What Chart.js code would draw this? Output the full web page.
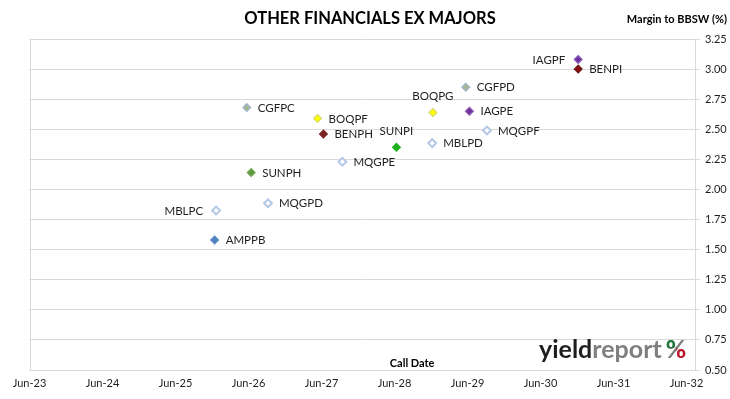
<!DOCTYPE html>
<html><head><meta charset="utf-8">
<script src="https://cdn.jsdelivr.net/npm/chart.js@4/dist/chart.umd.min.js"></script>
<style>html,body{margin:0;padding:0;background:#fff}#wrap{width:730px;height:399px;position:relative}</style>
</head><body><div id="wrap"><canvas id="c" width="730" height="399"></canvas></div>
<script>
// ---- data ----
const securities = ['IAGPF','BENPI','CGFPD','BOQPG','IAGPE','MQGPF','MBLPD','SUNPI','CGFPC','BOQPF','BENPH','MQGPE','SUNPH','MQGPD','MBLPC','AMPPB'];
// call dates as decimal years
const callDates = [2030.93,2030.93,2029.39,2028.94,2029.44,2029.68,2028.93,2028.44,2026.39,2027.36,2027.44,2027.70,2026.45,2026.68,2025.97,2025.95];
// margin to BBSW (%)
const margins = [3.08,3.00,2.85,2.64,2.65,2.49,2.385,2.35,2.68,2.59,2.46,2.23,2.14,1.885,1.825,1.58];
const xTickLabels = ['Jun-23','Jun-24','Jun-25','Jun-26','Jun-27','Jun-28','Jun-29','Jun-30','Jun-31','Jun-32'];
const xTickYears = [2023,2024,2025,2026,2027,2028,2029,2030,2031,2032];
const yTickValues = [0.50,0.75,1.00,1.25,1.50,1.75,2.00,2.25,2.50,2.75,3.00,3.25];

// ---- styles ----
const JUNE = 151/365;
const fillColors = ['#7030A0','#8B0E0E','#A6B98C','#FFFF00','#7030A0','#FFFFFF','#FFFFFF','#1DB01D','#A6B98C','#FFFF00','#7A2424','#FFFFFF','#5E9B3E','#FFFFFF','#FFFFFF','#4F81BD'];
const borderColors = ['#8A5AB5','#6E1A1A','#9DB3CF','#D8D86A','#8A5AB5','#B4C7E7','#B4C7E7','#1DB01D','#9DB3CF','#D8D86A','#7A2424','#B4C7E7','#6FA34E','#B4C7E7','#B4C7E7','#5B8CC6'];
const borderWidths = fillColors.map(c => c === '#FFFFFF' ? 2 : 1.2);
const labelSide = {IAGPF:'left', MBLPC:'left', BOQPG:'above', SUNPI:'above'};
const FONT = 'Lato';
const TXT = '#1f1f1f';
const GRID = '#D9D9D9';

const labelsPlugin = {
  id: 'pointLabels',
  afterDatasetsDraw(chart) {
    const ctx = chart.ctx;
    const meta = chart.getDatasetMeta(0);
    ctx.save();
    ctx.font = '11.5px ' + FONT;
    ctx.fillStyle = TXT;
    ctx.textBaseline = 'middle';
    meta.data.forEach((pt, i) => {
      const name = securities[i];
      const side = labelSide[name] || 'right';
      if (side === 'right') { ctx.textAlign = 'left'; ctx.fillText(name, pt.x + 11, pt.y + 0.5); }
      else if (side === 'left') { ctx.textAlign = 'right'; ctx.fillText(name, pt.x - 13, pt.y + 0.5); }
      else { ctx.textAlign = 'center'; ctx.fillText(name, pt.x, pt.y - 16.5); }
    });
    ctx.restore();
  }
};

const decorPlugin = {
  id: 'decor',
  beforeDatasetsDraw(chart) {
    const {ctx, chartArea: a} = chart;
    ctx.save();
    ctx.strokeStyle = GRID; ctx.lineWidth = 1;
    ctx.beginPath();
    ctx.moveTo(Math.round(a.left) + 0.5, Math.round(a.top) + 0.5);
    ctx.lineTo(Math.round(a.left) + 0.5, Math.round(a.bottom) + 0.5);
    ctx.lineTo(Math.round(a.right) + 0.5, Math.round(a.bottom) + 0.5);
    ctx.stroke();
    ctx.restore();
  },
  afterDraw(chart) {
    const {ctx, chartArea: a} = chart;
    ctx.save();
    ctx.fillStyle = '#000';
    ctx.textBaseline = 'middle';
    ctx.textAlign = 'center';
    ctx.font = 'bold 16.5px ' + FONT;
    ctx.fillText('OTHER FINANCIALS EX MAJORS', 370, 19);
    ctx.textAlign = 'right';
    ctx.font = 'bold 11px ' + FONT;
    ctx.fillText('Margin to BBSW (%)', 727, 19);
    ctx.textAlign = 'center';
    ctx.fillText('Call Date', a.left + (a.right - a.left) * 0.575, a.bottom - 7);
    // logo
    ctx.textAlign = 'left';
    ctx.textBaseline = 'alphabetic';
    ctx.font = 'bold 25px ' + FONT;
    const lx = 539, ly = 357.5;
    ctx.fillStyle = '#1e1e1e';
    ctx.fillText('yield', lx, ly);
    const w1 = ctx.measureText('yield').width;
    ctx.fillStyle = '#7f7f7f';
    ctx.fillText('report', lx + w1, ly);
    const w2 = ctx.measureText('report').width;
    const px = lx + w1 + w2 + 4;
    const pw = ctx.measureText('%').width;
    ctx.fillText('%', px, ly);
    ctx.save();
    ctx.beginPath(); ctx.rect(px, ly - 21, pw * 0.5, 11.5); ctx.clip();
    ctx.fillStyle = '#1e7a3a'; ctx.fillText('%', px, ly);
    ctx.restore();
    ctx.save();
    ctx.beginPath(); ctx.rect(px + pw * 0.5, ly - 9, pw * 0.6, 11); ctx.clip();
    ctx.fillStyle = '#c4182c'; ctx.fillText('%', px, ly);
    ctx.restore();
    ctx.restore();
  }
};

new Chart(document.getElementById('c'), {
  type: 'scatter',
  data: {
    datasets: [{
      data: callDates.map((d, i) => ({x: d, y: margins[i]})),
      pointStyle: 'rectRot',
      pointRadius: 3.9,
      pointBorderWidth: borderWidths,
      backgroundColor: fillColors,
      borderColor: borderColors
    }]
  },
  options: {
    responsive: false,
    animation: false,
    events: [],
    layout: { padding: { left: 29.5, top: 39, right: 0, bottom: 0 } },
    plugins: { legend: { display: false }, tooltip: { enabled: false }, title: { display: false } },
    scales: {
      x: {
        type: 'linear',
        min: xTickYears[0] + JUNE,
        max: xTickYears[0] + JUNE + 665.5 / 73,
        grid: { display: false, drawTicks: false },
        border: { display: false },
        afterBuildTicks(scale) { scale.ticks = xTickYears.map(y => ({ value: y + JUNE })); },
        afterFit(scale) { scale.height = 29; },
        ticks: {
          autoSkip: false, maxRotation: 0, padding: 7,
          color: TXT, font: { family: FONT, size: 11 },
          callback: (v, i) => xTickLabels[i]
        }
      },
      y: {
        position: 'right',
        min: yTickValues[0],
        max: yTickValues[yTickValues.length - 1],
        afterBuildTicks(scale) { scale.ticks = yTickValues.map(v => ({ value: v })); },
        afterFit(scale) { scale.width = 35; },
        grid: { color: GRID, lineWidth: 1, drawTicks: true, tickLength: 5 },
        border: { display: true, color: GRID },
        ticks: {
          padding: 5, color: TXT, font: { family: FONT, size: 11 },
          callback: v => Number(v).toFixed(2)
        }
      }
    }
  },
  plugins: [decorPlugin, labelsPlugin]
});
</script>
</body></html>
